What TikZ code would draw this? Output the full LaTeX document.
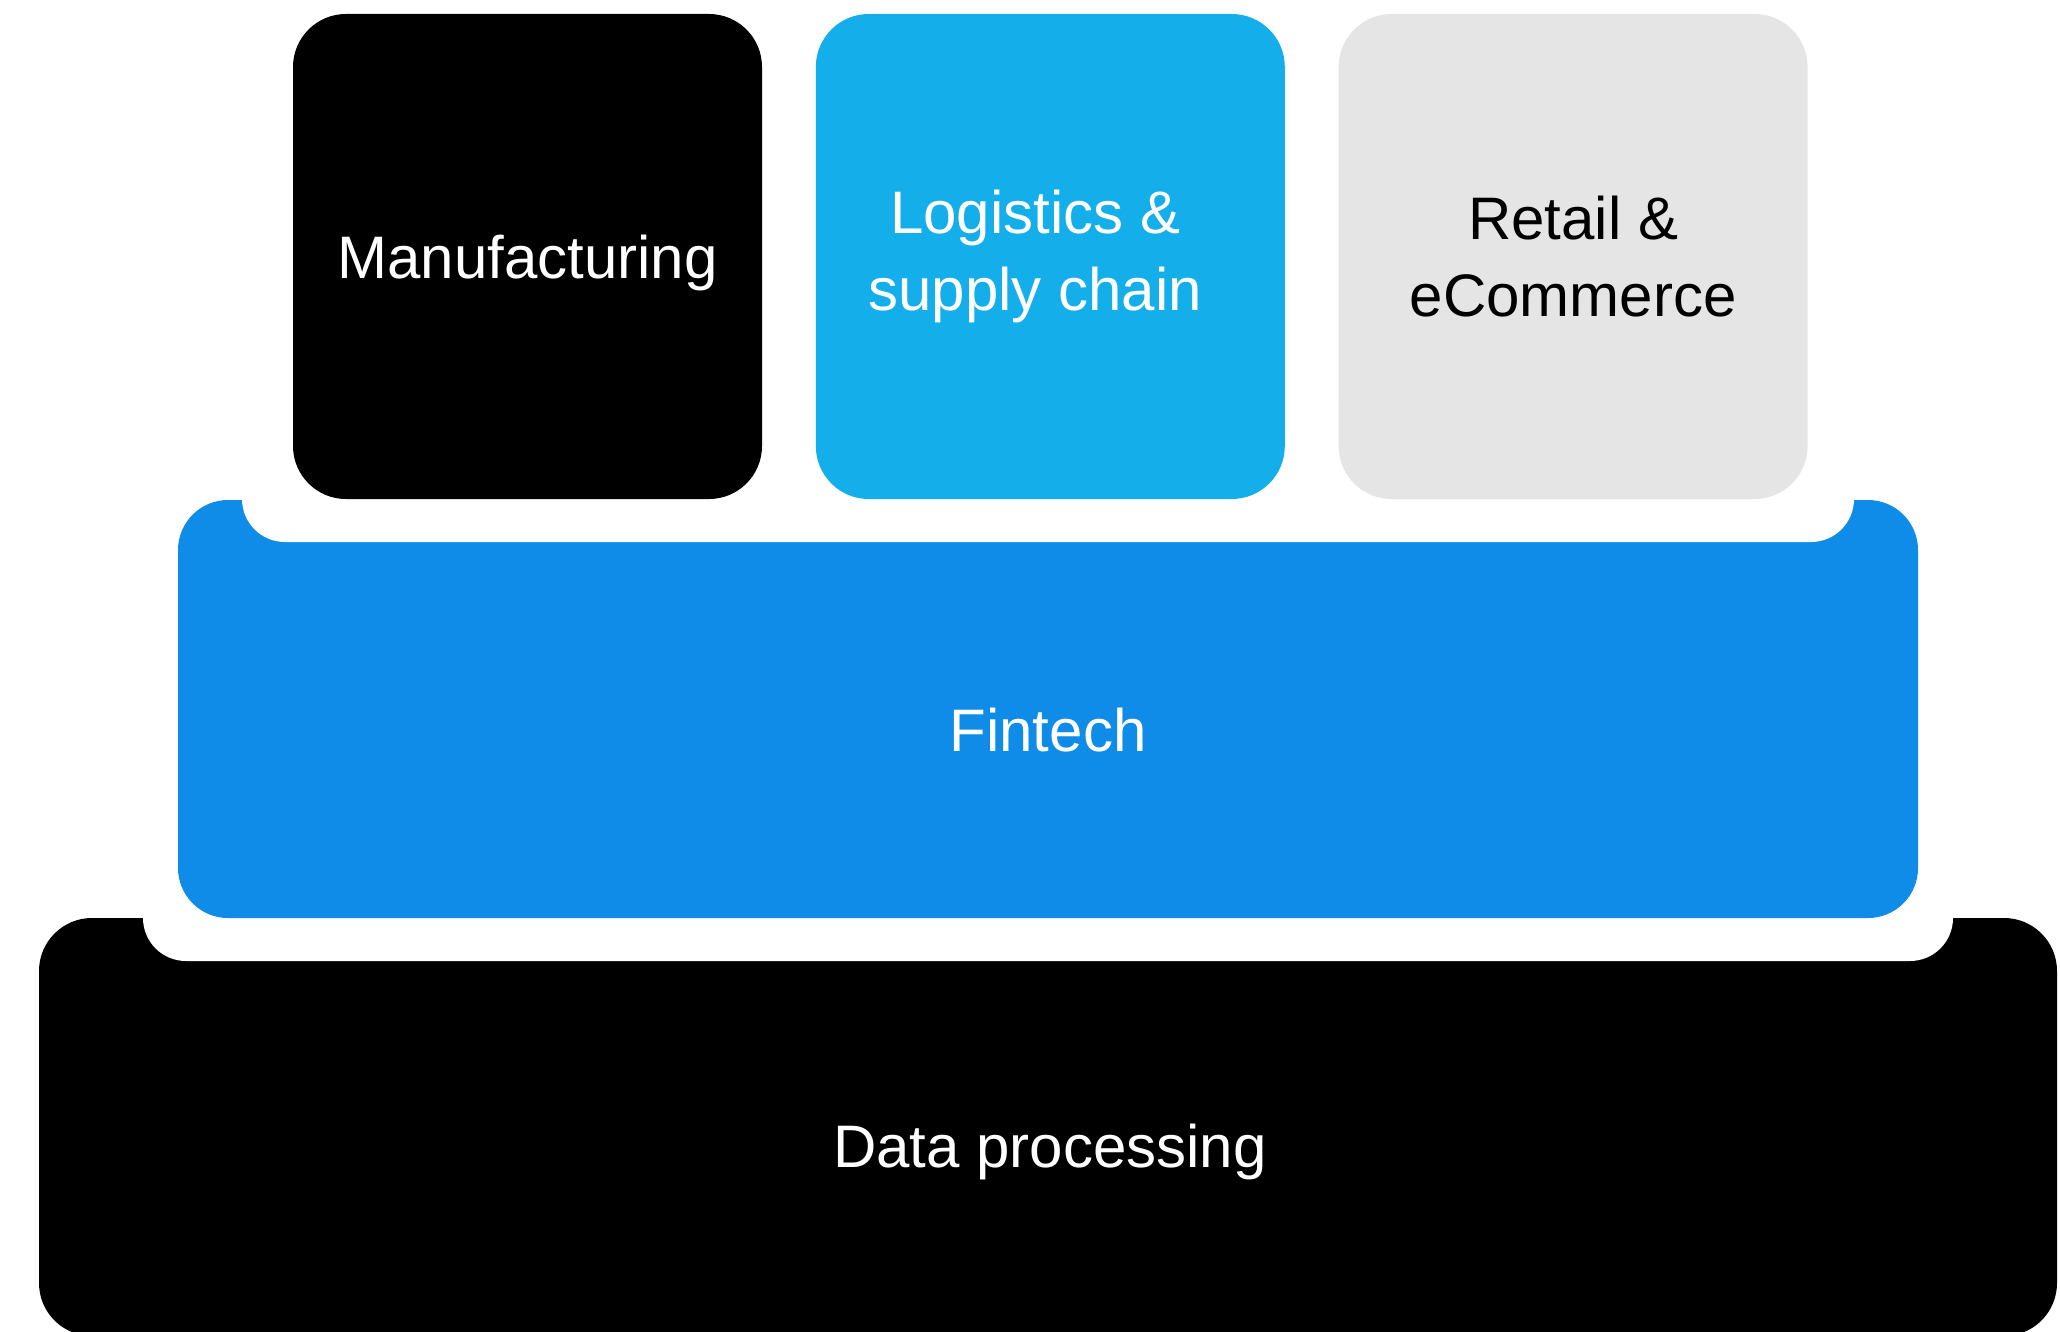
\documentclass[tikz,border=0pt]{standalone}
\usepackage{fontspec}
\setmainfont{Liberation Sans}
\usepackage{xcolor}
\usepackage{tikz}
\usetikzlibrary{positioning}
\definecolor{skyblue}{HTML}{14AEEA}
\definecolor{fintechblue}{HTML}{0E8CE8}
\definecolor{lightgrey}{HTML}{E5E5E5}
\tikzset{%
   tile/.style={
      rectangle,
      rounded corners=26.5pt,
      minimum width=234.5pt,
      minimum height=242.5pt,
      inner sep=0pt,
      align=center,
      font=\fontsize{30}{38.5}\selectfont
   },
   slab/.style={
      rectangle,
      rounded corners=#1,
      minimum height=209pt,
      inner sep=0pt
   },
   gap/.style={
      fill=white,
      rounded corners=21.5pt
   },
   caption/.style={
      inner sep=0pt,
      font=\fontsize{30}{38.5}\selectfont
   },
}

\begin{document}
\begin{tikzpicture}[x=0.5pt, y=-0.5pt]
   \useasboundingbox (0,0) rectangle (2060,1332);
   % layers, bottom one first
   \node[slab=26.5pt, minimum width=1009pt, fill=black] (data) at (1048,1127) {};
   \fill[gap] (143,860) rectangle (1953,961);
   \node[slab=25pt, minimum width=870pt, fill=fintechblue] (fin) at (1048,709) {};
   \fill[gap] (242,400) rectangle (1854,542);
   % top row
   \node[tile, fill=black, text=white, text depth=0pt] (manu) at (527.5,256.5) {Manufacturing};
   \node[tile, fill=skyblue, text=white, right=26.5pt of manu] (logi)
      {Logistics \&\hspace*{15pt}\\supply chain\hspace*{15pt}};
   \node[tile, fill=lightgrey, text=black, right=26.5pt of logi] (retail) {Retail \&\\eCommerce};
   \node[caption, text=white] (finT) at (1048,730) {Fintech};
   \node[caption, text=white] (dataT) at (1050,1152) {Data processing};
\end{tikzpicture}
\end{document}
